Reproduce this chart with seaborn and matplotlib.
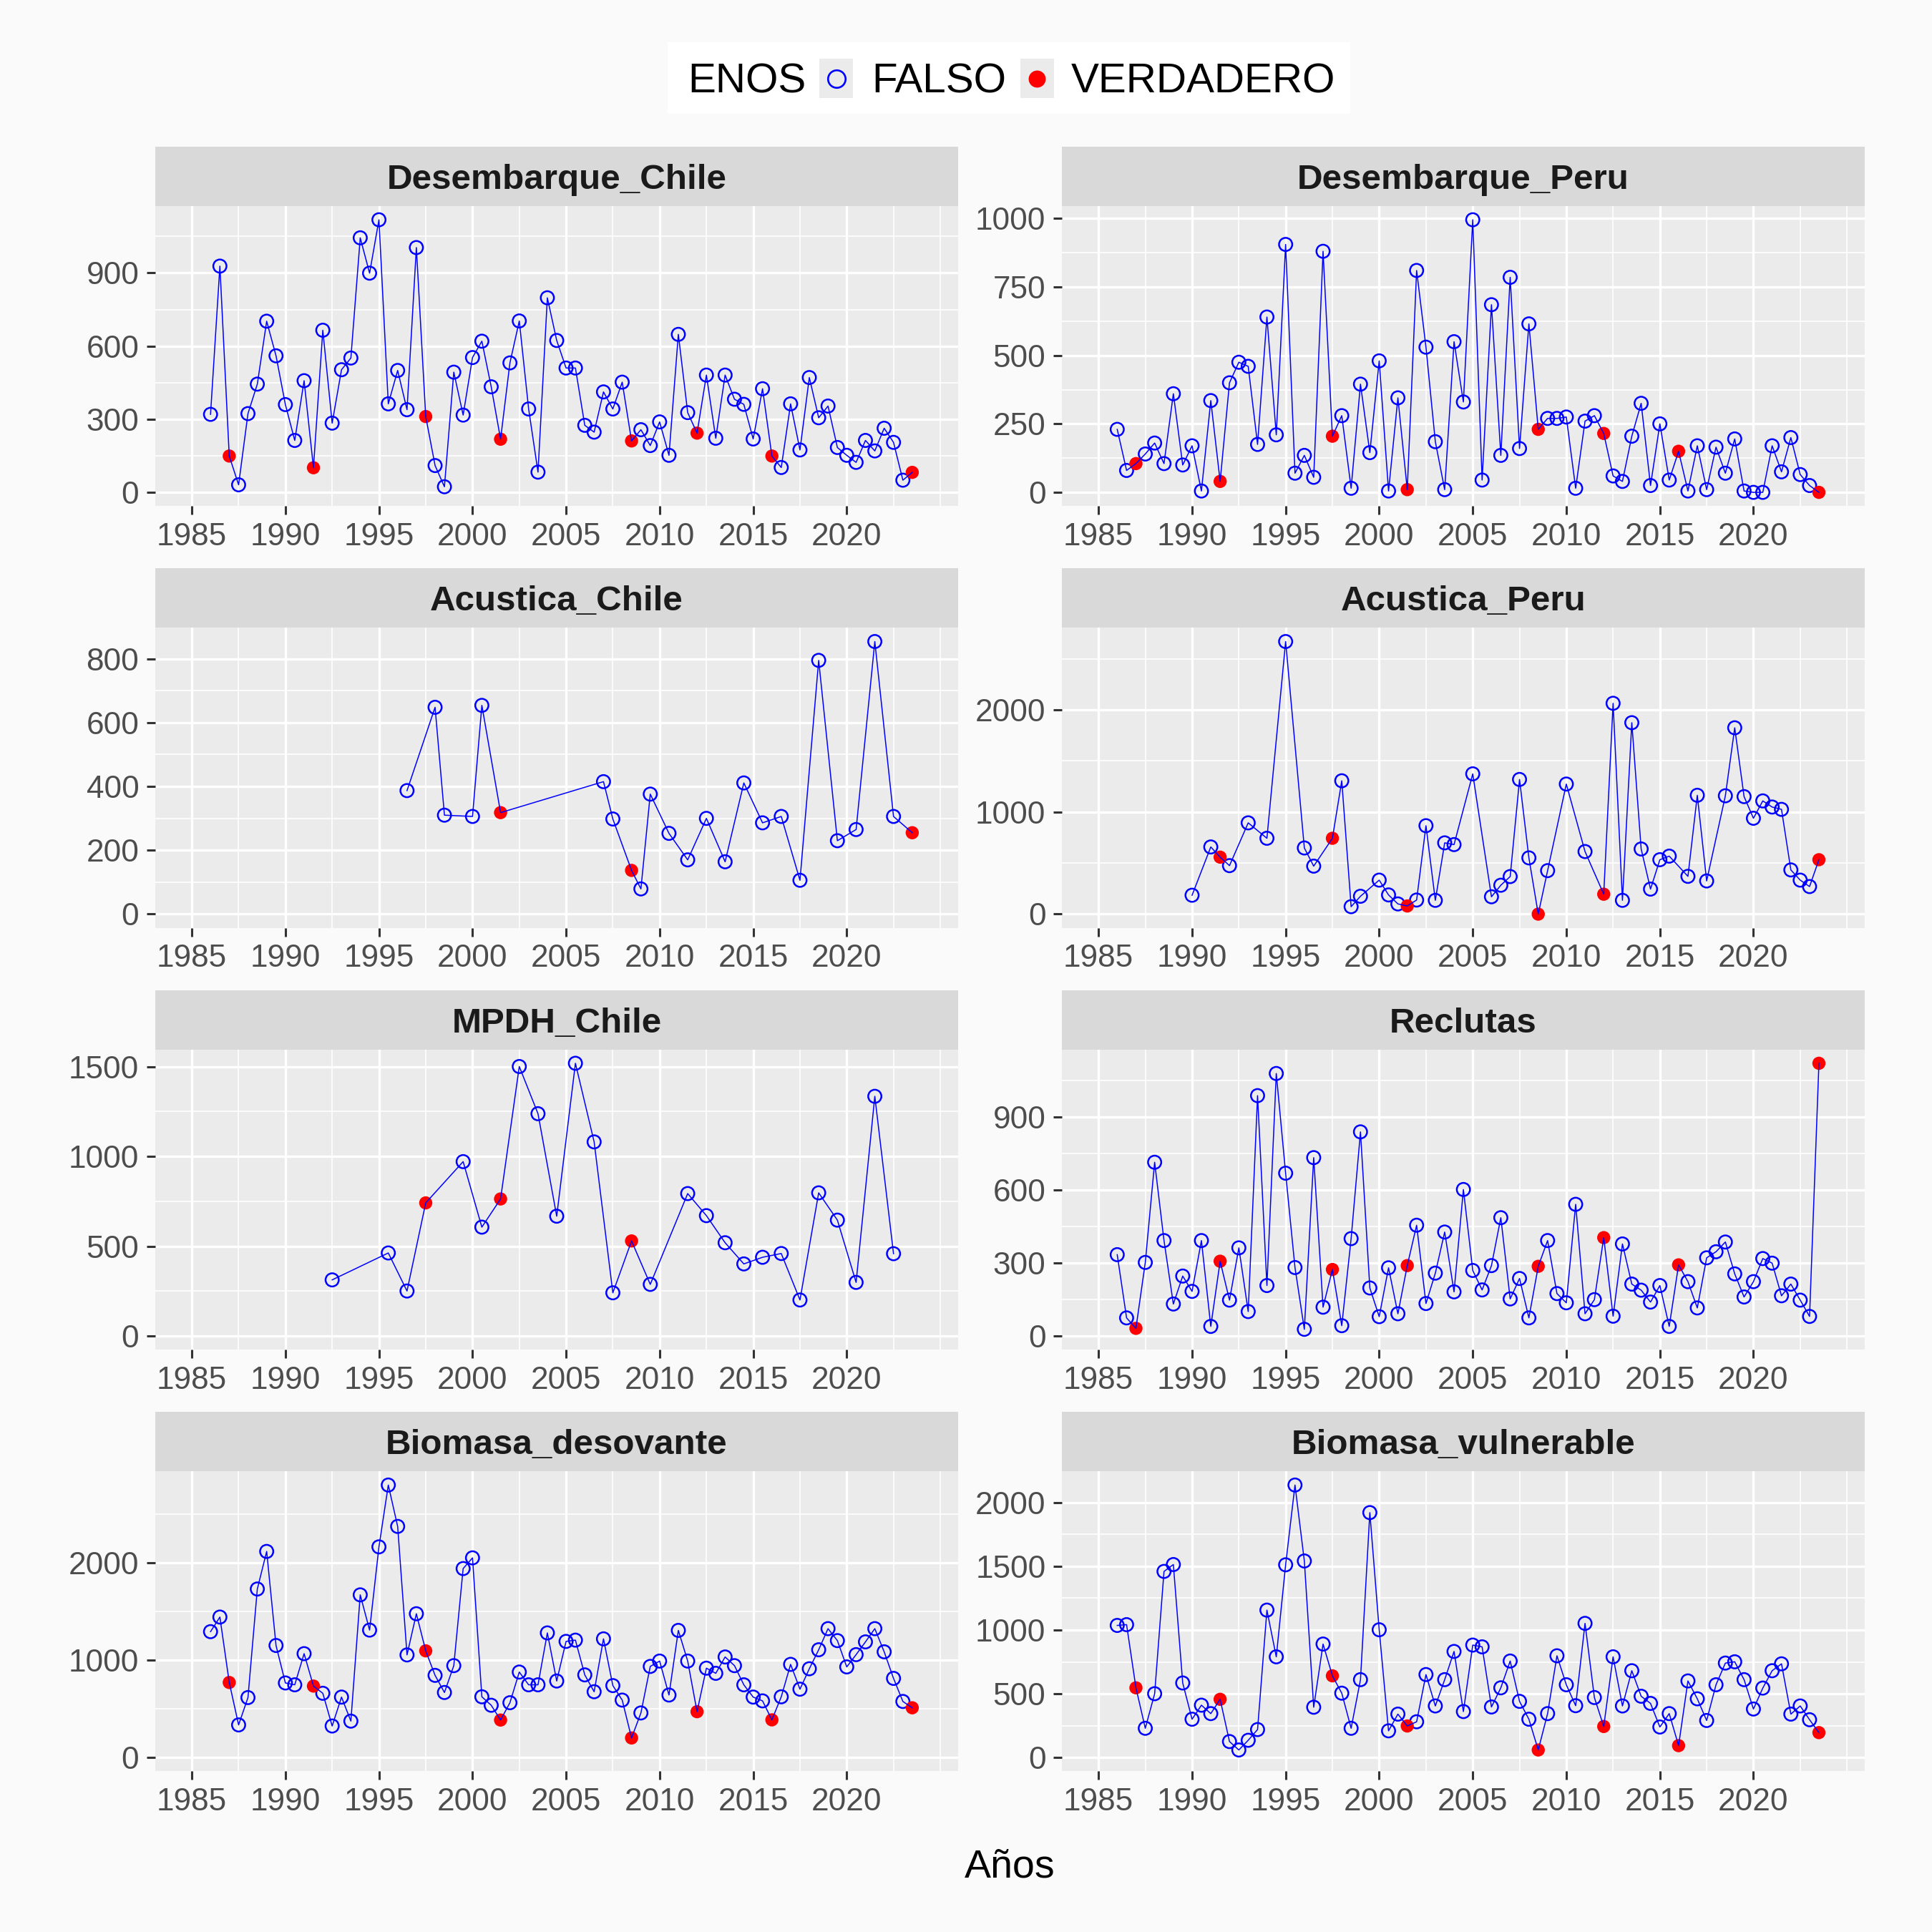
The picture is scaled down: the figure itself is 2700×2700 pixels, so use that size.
import numpy as np
import pandas as pd
import matplotlib
matplotlib.use("Agg")
import matplotlib.pyplot as plt
import seaborn as sns
from matplotlib.patches import Rectangle
from matplotlib.lines import Line2D
from matplotlib.ticker import FixedLocator, MultipleLocator, FuncFormatter

# --- Datos (semestres 1986-2023) ---
anios = [1986.0, 1986.5, 1987.0, 1987.5, 1988.0, 1988.5, 1989.0, 1989.5, 1990.0, 1990.5,
         1991.0, 1991.5, 1992.0, 1992.5, 1993.0, 1993.5, 1994.0, 1994.5, 1995.0, 1995.5,
         1996.0, 1996.5, 1997.0, 1997.5, 1998.0, 1998.5, 1999.0, 1999.5, 2000.0, 2000.5,
         2001.0, 2001.5, 2002.0, 2002.5, 2003.0, 2003.5, 2004.0, 2004.5, 2005.0, 2005.5,
         2006.0, 2006.5, 2007.0, 2007.5, 2008.0, 2008.5, 2009.0, 2009.5, 2010.0, 2010.5,
         2011.0, 2011.5, 2012.0, 2012.5, 2013.0, 2013.5, 2014.0, 2014.5, 2015.0, 2015.5,
         2016.0, 2016.5, 2017.0, 2017.5, 2018.0, 2018.5, 2019.0, 2019.5, 2020.0, 2020.5,
         2021.0, 2021.5, 2022.0, 2022.5, 2023.0, 2023.5]

# semestres con ENOS
anios_enos = [1987.0, 1991.5, 1997.5, 2001.5, 2008.5, 2012.0, 2016.0, 2023.5]

desembarque_chile = [320, 928, 149, 31, 323, 444, 702, 560, 360, 213, 458, 101, 665, 284,
                     503, 551, 1044, 899, 1118, 363, 500, 339, 1004, 311, 110, 23, 493, 317,
                     553, 620, 433, 218, 531, 703, 342, 83, 798, 623, 510, 510, 275, 247,
                     412, 342, 452, 211, 257, 192, 289, 152, 648, 327, 243, 481, 222, 481,
                     382, 361, 219, 425, 149, 102, 363, 174, 471, 306, 354, 184, 152, 123,
                     213, 170, 263, 205, 50, 82]

desembarque_peru = [230, 80, 105, 140, 180, 105, 360, 100, 170, 5, 335, 40, 400, 475, 460,
                    175, 640, 210, 905, 70, 135, 55, 880, 205, 280, 15, 395, 145, 480, 5,
                    345, 10, 810, 530, 185, 10, 550, 330, 995, 45, 685, 135, 785, 160, 615,
                    230, 270, 270, 275, 15, 260, 280, 215, 60, 40, 205, 325, 25, 250, 45,
                    150, 5, 170, 10, 165, 70, 195, 5, 0, 0, 170, 75, 200, 65, 25, 0]

anios_acustica_chile = [1996.5, 1998.0, 1998.5, 2000.0, 2000.5, 2001.5, 2007.0, 2007.5,
                        2008.5, 2009.0, 2009.5, 2010.5, 2011.5, 2012.5, 2013.5, 2014.5,
                        2015.5, 2016.5, 2017.5, 2018.5, 2019.5, 2020.5, 2021.5, 2022.5, 2023.5]
acustica_chile = [387, 648, 310, 306, 654, 318, 415, 298, 137, 79, 376, 253, 170, 300, 164,
                  411, 286, 306, 106, 795, 230, 265, 854, 306, 255]

anios_acustica_peru = [1990.0, 1991.0, 1991.5, 1992.0, 1993.0, 1994.0, 1995.0, 1996.0,
                       1996.5, 1997.5, 1998.0, 1998.5, 1999.0, 2000.0, 2000.5, 2001.0,
                       2001.5, 2002.0, 2002.5, 2003.0, 2003.5, 2004.0, 2005.0, 2006.0,
                       2006.5, 2007.0, 2007.5, 2008.0, 2008.5, 2009.0, 2010.0, 2011.0,
                       2012.0, 2012.5, 2013.0, 2013.5, 2014.0, 2014.5, 2015.0, 2015.5,
                       2016.5, 2017.0, 2017.5, 2018.5, 2019.0, 2019.5, 2020.0, 2020.5,
                       2021.0, 2021.5, 2022.0, 2022.5, 2023.0, 2023.5]
acustica_peru = [185, 658, 558, 475, 894, 743, 2670, 648, 470, 743, 1306, 73, 175, 333, 188,
                 100, 80, 138, 866, 135, 698, 681, 1374, 170, 283, 368, 1319, 551, 0, 426,
                 1274, 613, 195, 2065, 135, 1875, 638, 245, 533, 568, 370, 1164, 325, 1159,
                 1825, 1151, 939, 1109, 1049, 1026, 433, 333, 270, 533]

anios_mpdh = [1992.5, 1995.5, 1996.5, 1997.5, 1999.5, 2000.5, 2001.5, 2002.5, 2003.5,
              2004.5, 2005.5, 2006.5, 2007.5, 2008.5, 2009.5, 2011.5, 2012.5, 2013.5,
              2014.5, 2015.5, 2016.5, 2017.5, 2018.5, 2019.5, 2020.5, 2021.5, 2022.5]
mpdh_chile = [312, 462, 250, 741, 971, 606, 763, 1501, 1238, 667, 1519, 1081, 240, 529, 287,
              793, 670, 519, 401, 438, 459, 200, 797, 645, 298, 1335, 458]

reclutas = [334, 74, 31, 302, 714, 392, 131, 246, 183, 392, 39, 307, 147, 362, 100, 988, 207,
            1079, 669, 281, 27, 733, 118, 273, 42, 400, 839, 197, 79, 280, 91, 289, 455, 133,
            258, 427, 181, 602, 269, 189, 289, 486, 152, 236, 74, 286, 392, 174, 136, 541,
            91, 149, 404, 81, 378, 213, 188, 139, 207, 39, 292, 223, 115, 321, 346, 386, 255,
            160, 223, 318, 299, 165, 213, 147, 80, 1121]

biomasa_desovante = [1294, 1444, 772, 336, 617, 1732, 2118, 1152, 767, 748, 1068, 735, 661,
                     325, 622, 375, 1672, 1310, 2165, 2800, 2375, 1055, 1478, 1097, 845, 669,
                     945, 1942, 2052, 625, 538, 386, 564, 879, 748, 748, 1281, 787, 1194,
                     1207, 850, 677, 1220, 740, 591, 202, 459, 937, 992, 643, 1307, 992, 472,
                     919, 866, 1034, 945, 748, 622, 583, 388, 625, 958, 703, 913, 1108, 1325,
                     1202, 932, 1058, 1189, 1325, 1087, 814, 577, 512]

biomasa_vulnerable = [1036, 1042, 547, 230, 501, 1459, 1513, 585, 301, 411, 345, 457, 126, 60,
                      136, 220, 1156, 790, 1511, 2136, 1541, 395, 890, 641, 505, 230, 611,
                      1920, 1002, 210, 341, 248, 281, 651, 405, 611, 832, 361, 882, 868, 397,
                      547, 757, 441, 301, 60, 345, 798, 571, 407, 1052, 471, 244, 790, 405,
                      681, 481, 425, 240, 345, 94, 601, 461, 291, 571, 741, 751, 611, 381,
                      545, 681, 735, 341, 405, 297, 196]

series = {
    'Desembarque_Chile': (anios, desembarque_chile),
    'Desembarque_Peru': (anios, desembarque_peru),
    'Acustica_Chile': (anios_acustica_chile, acustica_chile),
    'Acustica_Peru': (anios_acustica_peru, acustica_peru),
    'MPDH_Chile': (anios_mpdh, mpdh_chile),
    'Reclutas': (anios, reclutas),
    'Biomasa_desovante': (anios, biomasa_desovante),
    'Biomasa_vulnerable': (anios, biomasa_vulnerable),
}
paso_y = {'Desembarque_Chile': 300, 'Desembarque_Peru': 250, 'Acustica_Chile': 200,
          'Acustica_Peru': 1000, 'MPDH_Chile': 500, 'Reclutas': 300,
          'Biomasa_desovante': 1000, 'Biomasa_vulnerable': 500}

frames = []
for nombre, (x, y) in series.items():
    frames.append(pd.DataFrame({'serie': nombre, 'anio': x, 'valor': y}))
df = pd.concat(frames, ignore_index=True)
df['enos'] = df['anio'].isin(anios_enos)

# --- Estilo tipo ggplot ---
fondo = '#FAFAFA'
plt.rcParams['font.family'] = ['Liberation Sans', 'DejaVu Sans']

fig = plt.figure(figsize=(13.5, 13.5), dpi=200, facecolor=fondo)

lefts = [0.0804, 0.5497]
ancho = 0.4155
alto_strip = 0.0308
alto_panel = 0.1552

for i, nombre in enumerate(series):
    fila, col = divmod(i, 2)
    top = 0.0759 + 0.2183 * fila
    ax = fig.add_axes([lefts[col], 1 - (top + alto_strip + alto_panel), ancho, alto_panel])
    strip = fig.add_axes([lefts[col], 1 - (top + alto_strip), ancho, alto_strip])

    sub = df[df['serie'] == nombre]
    sns.scatterplot(data=sub[~sub['enos']], x='anio', y='valor', ax=ax, marker='o', s=44,
                    facecolor='none', edgecolor='blue', linewidth=0.9, zorder=2, legend=False)
    sns.scatterplot(data=sub[sub['enos']], x='anio', y='valor', ax=ax, marker='o', s=44,
                    color='red', edgecolor='none', linewidth=0, zorder=2, legend=False)
    sns.lineplot(data=sub, x='anio', y='valor', ax=ax, color='blue', lw=0.55, zorder=3,
                 estimator=None, sort=True, legend=False)

    ymax = sub['valor'].max()
    ax.set_ylim(-0.05 * ymax, 1.05 * ymax)
    ax.set_xlim(1983.05, 2025.95)
    ax.xaxis.set_major_locator(FixedLocator([1985, 1990, 1995, 2000, 2005, 2010, 2015, 2020]))
    ax.xaxis.set_minor_locator(FixedLocator([1987.5, 1992.5, 1997.5, 2002.5, 2007.5,
                                             2012.5, 2017.5, 2022.5, 2025]))
    ax.yaxis.set_major_locator(MultipleLocator(paso_y[nombre]))
    ax.yaxis.set_minor_locator(MultipleLocator(paso_y[nombre] / 2))
    ax.yaxis.set_major_formatter(FuncFormatter(lambda v, p: f'{v:.0f}'))

    ax.set_facecolor('#EBEBEB')
    ax.grid(which='major', color='white', lw=1.2)
    ax.grid(which='minor', color='white', lw=0.6)
    ax.set_axisbelow(True)
    for s in ax.spines.values():
        s.set_visible(False)
    ax.tick_params(which='major', length=4.2, width=1.1, color='#333333',
                   labelsize=15.9, labelcolor='#4D4D4D', pad=4)
    ax.tick_params(which='minor', length=0)
    ax.set_xlabel('')
    ax.set_ylabel('')

    strip.set_facecolor('#D9D9D9')
    strip.set_xticks([])
    strip.set_yticks([])
    for s in strip.spines.values():
        s.set_visible(False)
    strip.text(0.5, 0.29, nombre, transform=strip.transAxes, ha='center', va='baseline',
               fontsize=17.8, fontweight='bold', color='#1A1A1A')

# --- Leyenda superior (dibujada en coordenadas de figura, px sobre 2700) ---
W = 2700.0
def fx(px):
    return px / W
def fy(px):
    return 1 - px / W

fig.add_artist(Rectangle((fx(933), fy(159)), fx(1887) - fx(933), fy(59) - fy(159),
                         transform=fig.transFigure, facecolor='white', edgecolor='none'))
base = fy(130)
fig.text(fx(961), base, 'ENOS', fontsize=21, ha='left', va='baseline')
fig.text(fx(1218), base, 'FALSO', fontsize=21, ha='left', va='baseline')
fig.text(fx(1497), base, 'VERDADERO', fontsize=21, ha='left', va='baseline')
for x0 in (1145, 1426):
    fig.add_artist(Rectangle((fx(x0), fy(137)), fx(47), 55 / W, transform=fig.transFigure,
                             facecolor='#EBEBEB', edgecolor='none'))
fig.add_artist(Line2D([fx(1168.5)], [fy(109.5)], transform=fig.transFigure, ls='',
                      marker='o', ms=8.8, mfc='none', mec='blue', mew=0.95))
fig.add_artist(Line2D([fx(1449.5)], [fy(109.5)], transform=fig.transFigure, ls='',
                      marker='o', ms=8.6, mfc='red', mec='red', mew=0))

fig.text(0.5228, 0.0337, 'Años', ha='center', va='center', fontsize=20, color='black')

fig.savefig('out.png', dpi=200, facecolor=fondo)
